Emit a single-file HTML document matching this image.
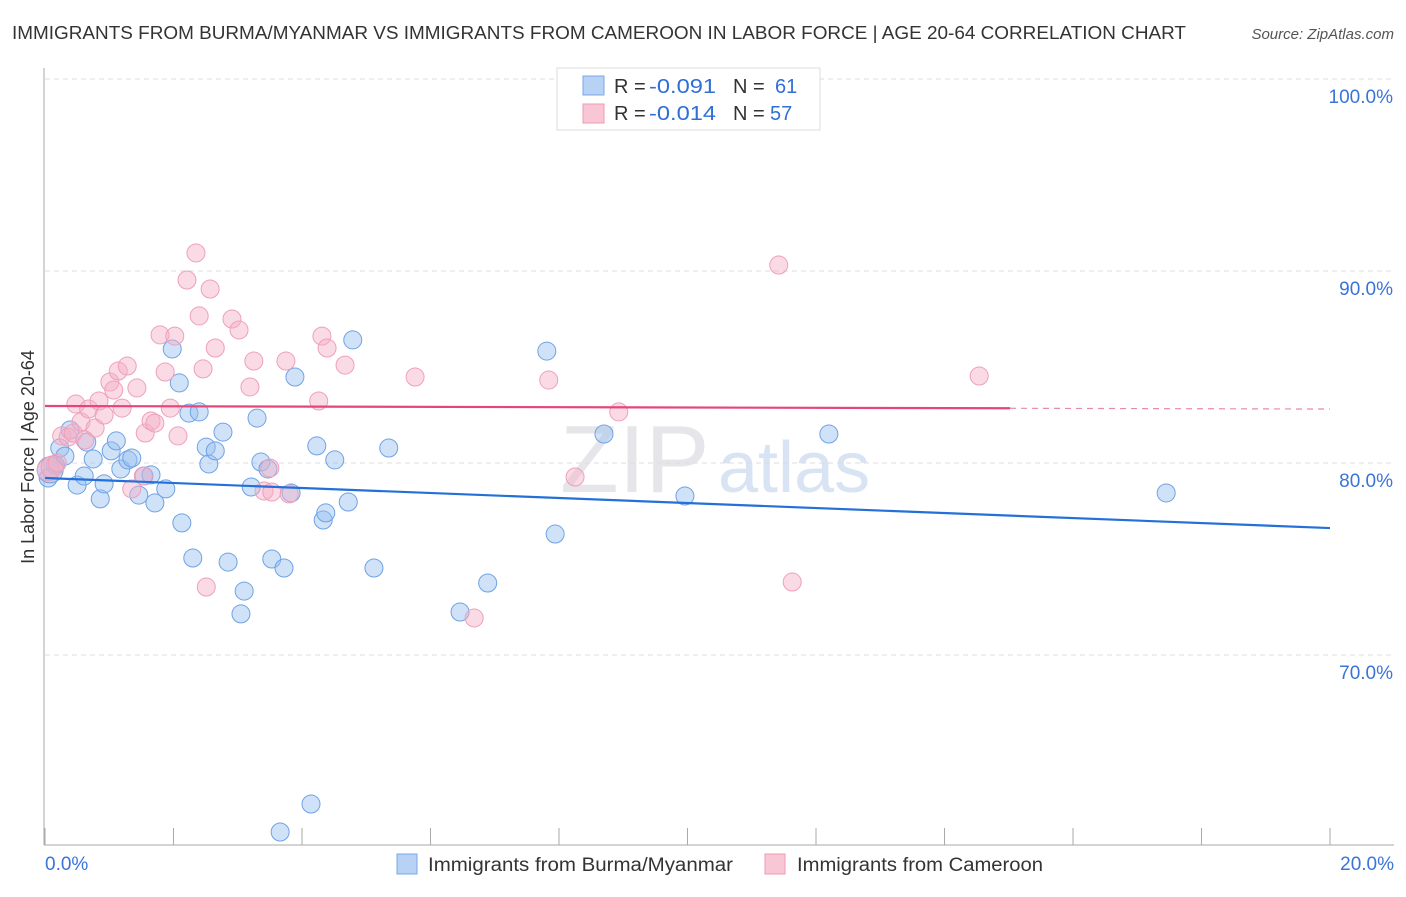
<!DOCTYPE html>
<html><head><meta charset="utf-8"><style>
body{margin:0;background:#fff;font-family:"Liberation Sans",sans-serif;}
svg text{font-family:"Liberation Sans",sans-serif;}
</style></head><body>
<svg id="chart" width="1406" height="892" xmlns="http://www.w3.org/2000/svg">
<text x="12" y="39" font-size="18" fill="#333" textLength="1174" lengthAdjust="spacingAndGlyphs">IMMIGRANTS FROM BURMA/MYANMAR VS IMMIGRANTS FROM CAMEROON IN LABOR FORCE | AGE 20-64 CORRELATION CHART</text>
<text x="1394" y="39" font-size="15" fill="#555" text-anchor="end" font-style="italic">Source: ZipAtlas.com</text>
<text x="560" y="492" font-size="96" fill="#e6e6ea" font-family="Liberation Serif">ZIP</text>
<text x="718" y="492" font-size="72" fill="#d8e4f4">atlas</text>
<text transform="translate(34,457) rotate(-90)" font-size="18" fill="#333" text-anchor="middle">In Labor Force | Age 20-64</text>
<g id="grid"></g><g id="pts"></g><g id="lines"></g>
<g>
<rect x="557" y="68" width="263" height="62" fill="#fff" stroke="#ddd"/>
<rect x="583" y="76" width="21" height="19" fill="#b7d2f5" stroke="#7aa7e6"/>
<rect x="583" y="104" width="21" height="19" fill="#f9c6d5" stroke="#ee9ab5"/>
<text x="614" y="93" font-size="20" fill="#333">R =</text>
<text x="649" y="93" font-size="20" fill="#2f6fd6" textLength="67" lengthAdjust="spacingAndGlyphs">-0.091</text>
<text x="733" y="93" font-size="20" fill="#333">N =</text>
<text x="775" y="93" font-size="20" fill="#2f6fd6">61</text>
<text x="614" y="120" font-size="20" fill="#333">R =</text>
<text x="649" y="120" font-size="20" fill="#2f6fd6" textLength="67" lengthAdjust="spacingAndGlyphs">-0.014</text>
<text x="733" y="120" font-size="20" fill="#333">N =</text>
<text x="770" y="120" font-size="20" fill="#2f6fd6">57</text>
</g>
<g>
<rect x="397" y="854" width="20" height="20" fill="#b7d2f5" stroke="#7aa7e6"/>
<text x="428" y="871" font-size="19" fill="#333" textLength="305" lengthAdjust="spacingAndGlyphs">Immigrants from Burma/Myanmar</text>
<rect x="765" y="854" width="20" height="20" fill="#f9c6d5" stroke="#ee9ab5"/>
<text x="797" y="871" font-size="19" fill="#333" textLength="246" lengthAdjust="spacingAndGlyphs">Immigrants from Cameroon</text>
</g>
</svg>
<script>
const xTicks=[0,2,4,6,8,10,12,14,16,18,20];
const yTicks=[70,80,90,100];
const blueX=[],blueY=[],pinkX=[],pinkY=[];
const bluePx=[[48,478],[55,465],[60,448],[65,456],[70,430],[77,485],[84,476],[87,442],[93,459],[100,499],[104,484],[111,451],[116,441],[121,469],[128,460],[132,458],[139,495],[144,476],[151,475],[155,503],[166,489],[172,349],[179,383],[182,523],[189,413],[199,412],[193,558],[206,447],[209,464],[215,451],[223,432],[228,562],[241,614],[244,591],[251,487],[257,418],[261,462],[268,469],[272,559],[284,568],[291,493],[295,377],[317,446],[323,520],[326,513],[335,460],[348,502],[353,340],[374,568],[389,448],[280,832],[311,804],[460,612],[488,583],[547,351],[555,534],[604,434],[685,496],[829,434],[1166,493],[50,470]];
const pinkPx=[[48,470],[52,467],[57,463],[62,436],[68,437],[73,433],[76,404],[81,422],[85,440],[89,409],[95,428],[99,401],[104,415],[110,382],[114,390],[118,371],[122,408],[127,366],[132,489],[137,388],[143,476],[145,433],[151,421],[155,423],[160,335],[165,372],[170,408],[175,336],[178,436],[187,280],[196,253],[199,316],[203,369],[206,587],[210,289],[215,348],[232,319],[239,330],[250,387],[254,361],[264,491],[270,468],[272,492],[286,361],[289,494],[319,401],[322,336],[327,348],[345,365],[415,377],[474,618],[549,380],[575,477],[619,412],[779,265],[792,582],[979,376]];
bluePx.forEach(p=>{blueX.push(+((p[0]-45)/64.25).toFixed(2));blueY.push(+(100-(p[1]-79)/19.2).toFixed(2));});
pinkPx.forEach(p=>{pinkX.push(+((p[0]-45)/64.25).toFixed(2));pinkY.push(+(100-(p[1]-79)/19.2).toFixed(2));});
const blueTrend=[79.22,76.61];
const pinkTrend=[82.97,82.81];
const pinkSolidEnd=15.02;
const X0=45,X1=1330,XMIN=0,XMAX=20,YTOP=79,YPX=19.2,YMAXV=100;
const sx=v=>X0+(v-XMIN)/(XMAX-XMIN)*(X1-X0);
const sy=v=>YTOP+(YMAXV-v)*YPX;
const NS="http://www.w3.org/2000/svg";
function mk(tag,attrs,parent){const e=document.createElementNS(NS,tag);for(const k in attrs)e.setAttribute(k,attrs[k]);parent.appendChild(e);return e;}
const grid=document.getElementById('grid');
yTicks.forEach(t=>{
 const l=mk('line',{x1:45,x2:1394,y1:sy(t),y2:sy(t),stroke:'#ddd','stroke-dasharray':'5,4'},grid);
 
 
 const tx=mk('text',{x:1393,y:sy(t)+24,'font-size':19,fill:'#3a74d8','text-anchor':'end'},grid);
 tx.textContent=t.toFixed(1)+'%';
 
 
});
const ax=mk('line',{x1:44,x2:44,y1:68,y2:845,stroke:'#aaa'},grid);


const bx=mk('line',{x1:44,x2:1394,y1:845,y2:845,stroke:'#aaa'},grid);


xTicks.forEach(t=>{
 const l=mk('line',{x1:sx(t),x2:sx(t),y1:828,y2:845,stroke:'#aaa'},grid);
 
 
});
[[0,'start'],[20,'end']].forEach(([t,a])=>{
 const tx=mk('text',{x:t==0?45:1394,y:870,'font-size':19,fill:'#3a74d8','text-anchor':a},grid);
 tx.textContent=t.toFixed(1)+'%';
 
 
});
const pts=document.getElementById('pts');
blueX.forEach((x,i)=>{
 const c=mk('circle',{cx:sx(x),cy:sy(blueY[i]),r:i==60?13:9,fill:'rgba(150,190,240,0.45)',stroke:'#6fa2e6','stroke-width':1},pts);
 
 
});
pinkX.forEach((x,i)=>{
 const c=mk('circle',{cx:sx(x),cy:sy(pinkY[i]),r:i<2?11:9,fill:'rgba(245,175,198,0.45)',stroke:'#ef9fbb','stroke-width':1},pts);
 
 
});
const lines=document.getElementById('lines');
const bl=mk('line',{x1:sx(0),y1:sy(blueTrend[0]),x2:sx(20),y2:sy(blueTrend[1]),stroke:'#2470d8','stroke-width':2.2},lines);


const pAt=x=>pinkTrend[0]+(pinkTrend[1]-pinkTrend[0])*x/20;
const pl=mk('line',{x1:sx(0),y1:sy(pAt(0)),x2:sx(pinkSolidEnd),y2:sy(pAt(pinkSolidEnd)),stroke:'#e6457a','stroke-width':2.2},lines);


const pd=mk('line',{x1:sx(pinkSolidEnd),y1:sy(pAt(pinkSolidEnd)),x2:sx(20),y2:sy(pAt(20)),stroke:'#e88aa8','stroke-width':1.2,'stroke-dasharray':'6,5'},lines);


</script>
</body></html>
